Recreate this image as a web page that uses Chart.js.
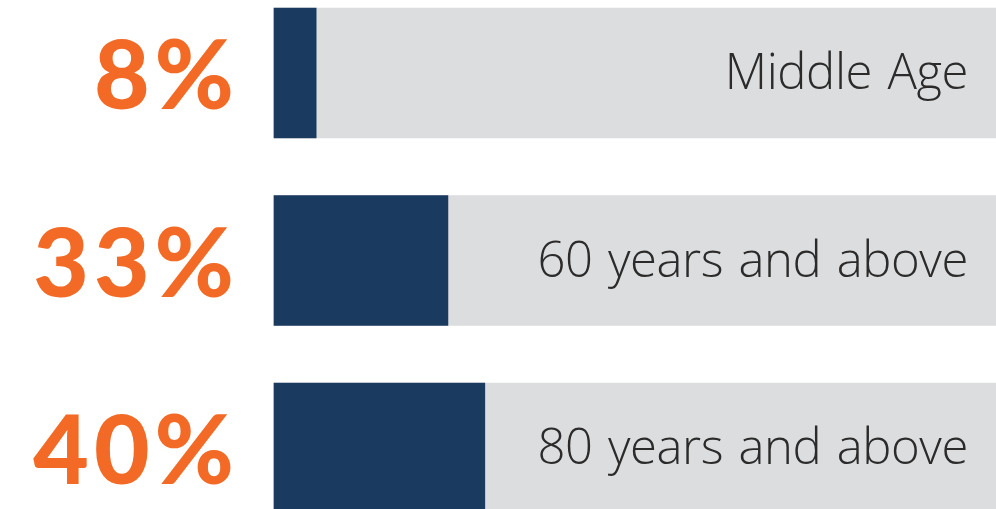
<!DOCTYPE html>
<html>
<head>
<meta charset="utf-8">
<script src="https://cdn.jsdelivr.net/npm/chart.js@4"></script>
<style>
html,body{margin:0;padding:0;background:#fff;overflow:hidden;}
#wrap{width:996px;height:509px;position:relative;}
</style>
</head>
<body>
<div id="wrap"><canvas id="c" width="996" height="509"></canvas></div>
<script>
const categories = ["Middle Age", "60 years and above", "80 years and above"];
const shareValues = [8, 33, 40];
const percentLabels = ["8%", "33%", "40%"];
const trackMax = 137;
const trackValues = [trackMax, trackMax, trackMax];

const labelPlugin = {
  id: 'labels',
  afterDatasetsDraw(chart) {
    const ctx = chart.ctx;
    const meta = chart.getDatasetMeta(1);
    const area = chart.chartArea;
    meta.data.forEach((bar, i) => {
      const cy = bar.y;
      ctx.save();
      ctx.fillStyle = '#f26a25';
      ctx.font = '900 96px Lato';
      ctx.letterSpacing = '5px';
      ctx.textAlign = 'right';
      ctx.textBaseline = 'alphabetic';
      ctx.fillText(percentLabels[i], 239, cy + 36);
      ctx.restore();
      ctx.save();
      ctx.fillStyle = '#2b2b2b';
      ctx.font = '300 49px "Open Sans"';
      ctx.letterSpacing = '-0.4px';
      ctx.wordSpacing = '3px';
      ctx.textAlign = 'right';
      ctx.textBaseline = 'alphabetic';
      ctx.fillText(categories[i], area.right - 28, cy + 16);
      ctx.restore();
    });
  }
};

new Chart(document.getElementById('c'), {
  type: 'bar',
  data: {
    labels: categories,
    datasets: [
      { label: 'Share', data: shareValues, backgroundColor: '#1a3a5f', barThickness: 130, grouped: false, order: 0, clip: false },
      { label: 'Track', data: trackValues, backgroundColor: '#dcdddf', barThickness: 130, grouped: false, order: 1, clip: false }
    ]
  },
  options: {
    indexAxis: 'y',
    responsive: false,
    animation: false,
    layout: { padding: { left: 274, right: 0, top: 73, bottom: 61 } },
    plugins: { legend: { display: false }, tooltip: { enabled: false } },
    scales: {
      x: { min: 0, max: trackMax, display: false },
      y: { offset: false, display: false }
    }
  },
  plugins: [labelPlugin]
});
</script>
</body>
</html>
